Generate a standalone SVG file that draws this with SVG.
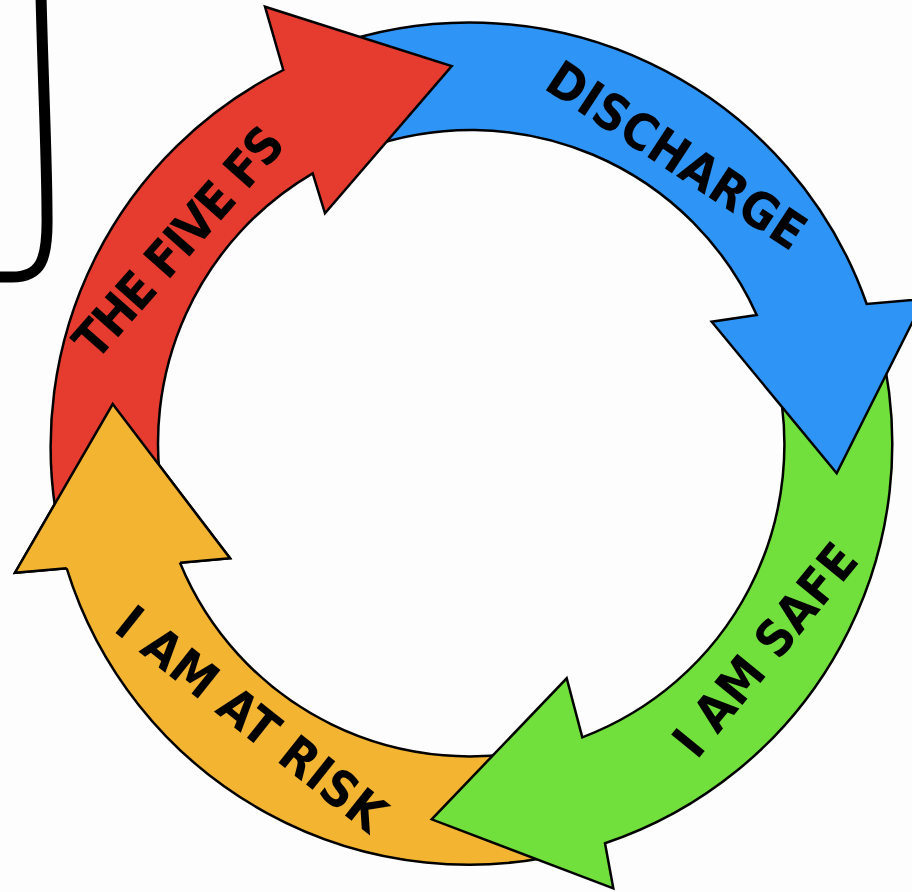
<svg xmlns="http://www.w3.org/2000/svg" width="912" height="892" viewBox="0 0 912 892">
<style>
.arrow{stroke:#000;stroke-width:2.5;stroke-linejoin:miter}
.lbl{font-family:"DejaVu Sans Condensed","DejaVu Sans",sans-serif;font-weight:bold;font-size:50px;fill:#000}
.red{fill:#E63C2F}
.blue{fill:#2E94F6}
.green{fill:#72E03C}
.yellow{fill:#F3B431}
</style>
<rect x="0" y="0" width="912" height="892" fill="#fdfdfd"/>
<g id="frame">
<path d="M41,-5 C43,80 47,160 47,215 C48,262 40,277 12,277 L-5,277" fill="none" stroke="#000" stroke-width="11"/>
</g>
<g id="connectors">
<g id="node-iamatrisk">
<path class="arrow yellow" d="M580,849.7 A421,421 0 0 1 66.7,568.3 L15,572.7 L112.7,404 L230,558.3 L180,562.7 A313,313 0 0 0 552,745.3 Z"/>
<text class="lbl" transform="translate(240.7,732.7) rotate(38.5)" text-anchor="middle" textLength="328" lengthAdjust="spacing">I AM AT RISK</text>
</g>
<g id="node-iamsafe">
<path class="arrow green" d="M879.5,341.2 A421,421 0 0 1 605,843.3 L613.3,888.3 L431.7,819.3 L566.7,678.3 L582.3,737.3 A313,313 0 0 0 774.7,367.3 Z"/>
<text class="lbl" transform="translate(778.6,660.9) rotate(-50.66)" text-anchor="middle" textLength="258" lengthAdjust="spacing">I AM SAFE</text>
</g>
<g id="node-discharge">
<path class="arrow blue" d="M327,47.4 A421,421 0 0 1 866.7,304 L924,299 L836.7,473.3 L711.7,321.7 L756.7,315 A313,313 0 0 0 364,148.9 Z"/>
<text class="lbl" transform="translate(667,169.9) rotate(33.37)" text-anchor="middle" textLength="298" lengthAdjust="spacing">DISCHARGE</text>
</g>
<g id="node-thefivefs">
<path class="arrow red" d="M57.7,523.3 A421,421 0 0 1 283.3,70 L265,6.7 L451.7,66 L325,213.3 L312.7,173.3 A313,313 0 0 0 163.7,502.7 Z"/>
<text class="lbl" transform="translate(191.8,253.6) rotate(-48.67)" text-anchor="middle" textLength="289" lengthAdjust="spacing">THE FIVE FS</text>
</g>
<path id="iamatrisk-head" class="arrow yellow" d="M66.7,568.3 L15,572.7 L112.7,404 L230,558.3 L180,562.7"/>
</g>
</svg>
